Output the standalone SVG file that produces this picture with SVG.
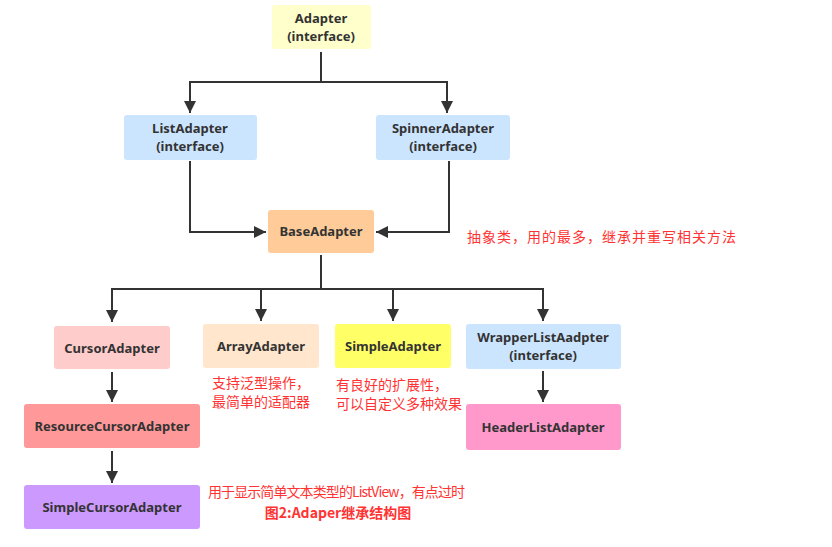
<svg xmlns="http://www.w3.org/2000/svg" width="832" height="547" viewBox="0 0 832 547">
<style>
.n{stroke:none}
.t{font-family:"Noto Sans","Noto Sans CJK SC",sans-serif;font-weight:bold;font-size:13px;fill:#333333;text-anchor:middle}
.r{font-family:"Noto Sans CJK SC","Noto Sans",sans-serif;font-size:14px;fill:#FF3333}
.c{fill:none;stroke:#333333;stroke-width:2}
</style>
<defs>
<marker id="ah" viewBox="0 0 10 10" refX="10" refY="5" markerWidth="6" markerHeight="6" markerUnits="strokeWidth" orient="auto">
<path d="M0,0 L10,5 L0,10 z" fill="#333333"/>
</marker>
</defs>
<rect width="832" height="547" fill="#ffffff"/>
<g id="connectors">
<path class="c" d="M321,52 V82 H190 V113" marker-end="url(#ah)"/>
<path class="c" d="M321,82 H447 V113" marker-end="url(#ah)"/>
<path class="c" d="M190,161 V232 H266" marker-end="url(#ah)"/>
<path class="c" d="M449,161 V232 H376" marker-end="url(#ah)"/>
<path class="c" d="M321,255 V289 H112 V322" marker-end="url(#ah)"/>
<path class="c" d="M261,289 V321" marker-end="url(#ah)"/>
<path class="c" d="M321,289 H543 V321" marker-end="url(#ah)"/>
<path class="c" d="M393,289 V321" marker-end="url(#ah)"/>
<path class="c" d="M112,372 V402" marker-end="url(#ah)"/>
<path class="c" d="M112,451 V483" marker-end="url(#ah)"/>
<path class="c" d="M543,371 V402" marker-end="url(#ah)"/>
</g>
<g id="adapter"><rect x="272" y="5" width="99" height="44" rx="3" fill="#FFFFCC"/><text class="t" x="321" y="23">Adapter</text><text class="t" x="321" y="41">(interface)</text></g>
<g id="listadapter"><rect x="124" y="115" width="133" height="45" rx="3" fill="#CCE5FF"/><text class="t" x="190" y="133">ListAdapter</text><text class="t" x="190" y="151">(interface)</text></g>
<g id="spinneradapter"><rect x="376" y="115" width="134" height="45" rx="3" fill="#CCE5FF"/><text class="t" x="443" y="133">SpinnerAdapter</text><text class="t" x="443" y="151">(interface)</text></g>
<g id="baseadapter"><rect x="268" y="210" width="106" height="43" rx="3" fill="#FFCC99"/><text class="t" x="321" y="236">BaseAdapter</text></g>
<g id="cursoradapter"><rect x="54" y="326" width="116" height="43" rx="3" fill="#FFCCCC"/><text class="t" x="112" y="353">CursorAdapter</text></g>
<g id="arrayadapter"><rect x="203" y="324" width="116" height="44" rx="3" fill="#FFE6CC"/><text class="t" x="261" y="351">ArrayAdapter</text></g>
<g id="simpleadapter"><rect x="335" y="324" width="116" height="44" rx="3" fill="#FFFF66"/><text class="t" x="393" y="351">SimpleAdapter</text></g>
<g id="wrapperlistadapter"><rect x="466" y="324" width="155" height="45" rx="3" fill="#CCE5FF"/><text class="t" x="543" y="342">WrapperListAadpter</text><text class="t" x="543" y="360">(interface)</text></g>
<g id="resourcecursoradapter"><rect x="24" y="404" width="176" height="44" rx="3" fill="#FF9999"/><text class="t" x="112" y="431">ResourceCursorAdapter</text></g>
<g id="headerlistadapter"><rect x="466" y="404" width="155" height="46" rx="3" fill="#FF99CC"/><text class="t" x="543" y="432">HeaderListAdapter</text></g>
<g id="simplecursoradapter"><rect x="24" y="485" width="176" height="44" rx="3" fill="#CC99FF"/><text class="t" x="112" y="512">SimpleCursorAdapter</text></g>
<g id="notes">
<text class="r" x="467" y="242" textLength="269">抽象类，用的最多，继承并重写相关方法</text>
<text class="r" x="212" y="388">支持泛型操作，</text>
<text class="r" x="212" y="407">最简单的适配器</text>
<text class="r" x="336" y="390">有良好的扩展性，</text>
<text class="r" x="336" y="409">可以自定义多种效果</text>
<text class="r" x="208" y="497" font-size="13.5px" textLength="257">用于显示简单文本类型的ListView，有点过时</text>
<text class="r" x="338" y="518" text-anchor="middle" font-weight="bold" font-size="13.5px">图2:Adaper继承结构图</text>
</g>
</svg>
